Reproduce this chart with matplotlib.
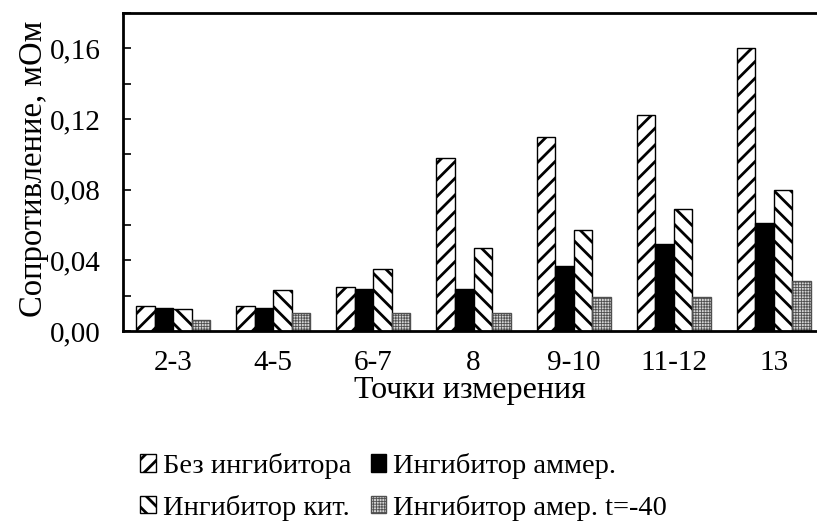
import numpy as np
import matplotlib.pyplot as plt
from matplotlib.ticker import MultipleLocator, FuncFormatter

plt.rcParams['font.family'] = ['Liberation Serif', 'DejaVu Serif']
plt.rcParams['hatch.linewidth'] = 2.0

points = ['2-3', '4-5', '6-7', '8', '9-10', '11-12', '13']
bez = [0.014, 0.014, 0.025, 0.098, 0.110, 0.122, 0.160]
ammer = [0.013, 0.013, 0.024, 0.024, 0.037, 0.049, 0.061]
kit = [0.0125, 0.023, 0.035, 0.047, 0.057, 0.069, 0.080]
amer40 = [0.006, 0.010, 0.010, 0.010, 0.019, 0.019, 0.028]

fig = plt.figure(figsize=(8.17, 5.22), dpi=100)
ax = fig.add_axes([0.1506, 0.366, 0.8494, 0.609])

x = np.arange(len(points))
w = 0.185
b1 = ax.bar(x - 1.5 * w, bez, w, facecolor='white', edgecolor='black', hatch='//', linewidth=1)
b2 = ax.bar(x - 0.5 * w, ammer, w, facecolor='black', edgecolor='black', linewidth=1)
b3 = ax.bar(x + 0.5 * w, kit, w, facecolor='white', edgecolor='black', hatch='\\\\', linewidth=1)
with plt.rc_context({'hatch.linewidth': 0.6}):
    b4 = ax.bar(x + 1.5 * w, amer40, w, facecolor='#d4d4d4', edgecolor='#505050', hatch='++++++', linewidth=1)

ax.set_xlim(-0.5, 6.43)
ax.set_ylim(0, 0.18)
ax.set_xticks(x)
ax.set_xticklabels(points)
ax.yaxis.set_major_locator(MultipleLocator(0.04))
ax.yaxis.set_minor_locator(MultipleLocator(0.02))
ax.yaxis.set_major_formatter(FuncFormatter(lambda v, p: ('%.2f' % v).replace('.', ',')))
ax.tick_params(axis='y', which='both', direction='in', length=6, width=1.2, labelsize=21, pad=16)
ax.tick_params(axis='x', length=0, labelsize=21, pad=14)
for s in ['top', 'left', 'bottom']:
    ax.spines[s].set_linewidth(2)
ax.spines['right'].set_visible(False)

ax.set_xlabel('Точки измерения', fontsize=23, labelpad=0)
ax.set_ylabel('Сопротивление, мОм', fontsize=23.5, labelpad=6)
ax.yaxis.set_label_coords(-0.107, 0.51)

leg = fig.legend([b1, b3, b2, b4],
                 ['Без ингибитора', 'Ингибитор кит.', 'Ингибитор аммер.', 'Ингибитор амер. t=-40'],
                 ncol=2, frameon=False, fontsize=20.5, loc='upper left', bbox_to_anchor=(0.158, 0.154),
                 handlelength=0.55, handleheight=0.55, handletextpad=0.25, columnspacing=0.67,
                 labelspacing=0.55, borderaxespad=0)
h4 = leg.legend_handles[3]
if hasattr(h4, 'set_hatch_linewidth'):
    h4.set_hatch_linewidth(0.6)

fig.savefig('out.png', dpi=100)
